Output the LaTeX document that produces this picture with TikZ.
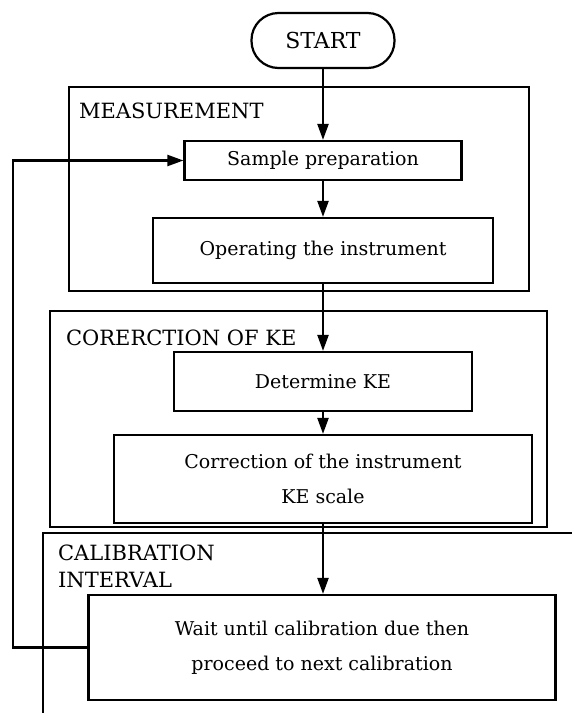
\documentclass[tikz,border=0pt]{standalone}
\usepackage{fontspec}
\setmainfont{DejaVu Serif}
\usetikzlibrary{arrows.meta}
\begin{document}
\begin{tikzpicture}[x=1pt,y=-1pt,line width=2.2pt,
  arr/.style={-{Triangle[length=16pt,width=11pt]}},
  box/.style={draw,rectangle,inner sep=0pt,align=center,font=\fontsize{19}{35}\selectfont},
  lbl/.style={anchor=base west,inner sep=0pt,font=\fontsize{21}{27}\selectfont}]
\useasboundingbox (0,0) rectangle (572,713);
% group frames
\draw (69,87) rectangle (529,291);
\draw (50,311) rectangle (547,527);
\draw (43,713) -- (43,533) -- (572,533);
\node[lbl] (lm) at (78,118) {MEASUREMENT};
\node[lbl] (lc) at (65,345) {CORERCTION OF KE};
\node[lbl] (lk1) at (57,560) {CALIBRATION};
\node[lbl] (lk2) at (57,587) {INTERVAL};
% steps
\node[box,rounded corners=27pt,minimum width=143pt,minimum height=55pt,font=\fontsize{22}{27}\selectfont] (start) at (323,40.5) {START};
\node[box,minimum width=277pt,minimum height=39pt] (sample) at (323,160.5) {Sample preparation};
\node[box,minimum width=340pt,minimum height=65pt] (oper) at (323,250.5) {Operating the instrument};
\node[box,minimum width=298pt,minimum height=59pt] (det) at (323,381.5) {Determine KE};
\node[box,minimum width=418pt,minimum height=88pt] (corr) at (323,479) {Correction of the instrument\\KE scale};
\node[box,minimum width=467pt,minimum height=105pt] (wait) at (322,647.5) {Wait until calibration due then\\proceed to next calibration};
% connectors
\draw[arr] (start) -- (sample);
\draw[arr] (sample) -- (oper);
\draw[arr] (oper) -- (det);
\draw[arr] (det) -- (corr);
\draw[arr] (corr.south) -- (corr.south |- wait.north);
\coordinate (lb) at (13,647);
\draw[arr] (wait.west) -- (wait.west -| lb) |- (sample.west);
\end{tikzpicture}
\end{document}
